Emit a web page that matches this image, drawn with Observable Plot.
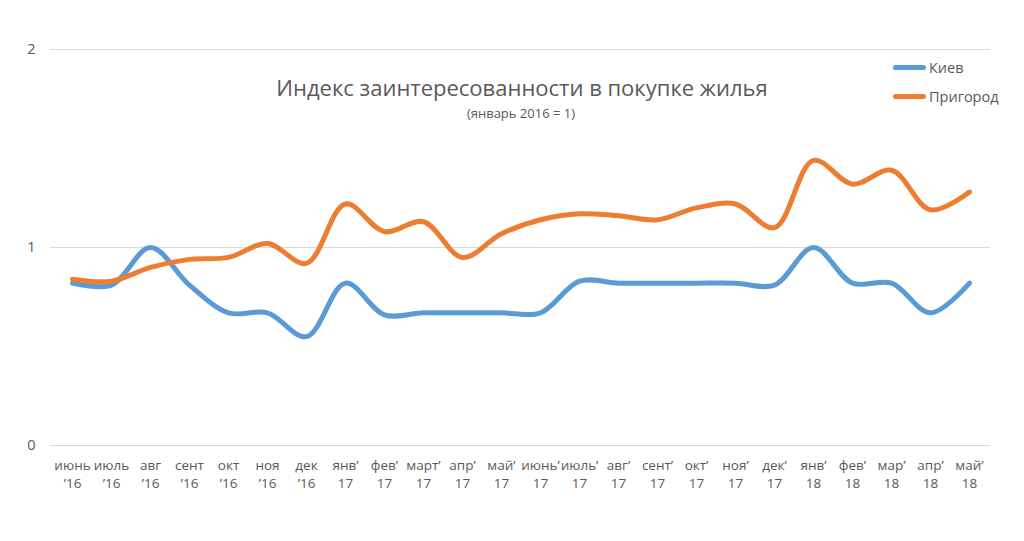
<!DOCTYPE html>
<html><head><meta charset="utf-8">
<script src="https://cdn.jsdelivr.net/npm/d3@7"></script>
<script src="https://cdn.jsdelivr.net/npm/@observablehq/plot@0.6"></script>
<style>
html,body{margin:0;padding:0;background:#fff;}
#wrap{position:relative;width:1024px;height:541px;font-family:"Open Sans",sans-serif;color:#595959;}
#title{position:absolute;left:0;width:1044px;top:72px;text-align:center;font-size:22px;}
#sub{position:absolute;left:0;width:1042px;top:104px;text-align:center;font-size:13px;}
.leg{position:absolute;left:893px;font-size:14.5px;display:flex;align-items:center;}
.leg span.sw{display:inline-block;width:33px;height:5px;border-radius:3px;margin-right:3px;}
</style></head><body>
<div id="wrap">
<div id="chart"></div>
<div id="title">Индекс заинтересованности в покупке жилья</div>
<div id="sub">(январь 2016 = 1)</div>
<div class="leg" style="top:58px"><span class="sw" style="background:#5b9bd5"></span>Киев</div>
<div class="leg" style="top:87px"><span class="sw" style="background:#ed7d31"></span>Пригород</div>
</div>
<script>
const months = ["июнь\n’16","июль\n’16","авг\n’16","сент\n’16","окт\n’16","ноя\n’16","дек\n’16",
"янв’\n17","фев’\n17","март’\n17","апр’\n17","май’\n17","июнь’\n17","июль’\n17","авг’\n17","сент’\n17",
"окт’\n17","ноя’\n17","дек’\n17","янв’\n18","фев’\n18","мар’\n18","апр’\n18","май’\n18"];
const kiev = [0.82,0.81,1.0,0.81,0.67,0.67,0.55,0.82,0.66,0.67,0.67,0.67,0.67,0.83,0.82,0.82,0.82,0.82,0.81,1.0,0.82,0.82,0.67,0.82];
const prigorod = [0.84,0.83,0.9,0.94,0.95,1.02,0.92,1.22,1.08,1.13,0.95,1.07,1.14,1.17,1.16,1.14,1.2,1.22,1.1,1.44,1.32,1.39,1.19,1.28];
const yTicks = [0,1,2];
const seriesNames = ["Киев","Пригород"];
const colors = ["#5b9bd5","#ed7d31"];

const data = [];
months.forEach((m,i)=>{
  data.push({month:m, series:seriesNames[0], value:kiev[i]});
  data.push({month:m, series:seriesNames[1], value:prigorod[i]});
});

const chart = Plot.plot({
  width:1024, height:541,
  marginLeft:50, marginRight:34, marginTop:49, marginBottom:96,
  style:{fontFamily:"Open Sans, sans-serif", color:"#595959", background:"transparent"},
  x:{type:"point", domain:months, padding:0.5, label:null},
  y:{domain:[0,2], ticks:yTicks, label:null},
  color:{domain:seriesNames, range:colors},
  marks:[
    Plot.gridY(yTicks,{stroke:"#d9d9d9", strokeOpacity:1, strokeWidth:1}),
    Plot.axisY(yTicks,{tickSize:0, tickPadding:15, fontSize:14.5, fill:"#595959", tickFormat:d=>String(d)}),
    Plot.axisX({tickSize:0, tickPadding:12, fontSize:13.5, fill:"#595959", lineHeight:1.3}),
    Plot.line(data,{x:"month", y:"value", z:"series", stroke:"series", strokeWidth:5, curve:"catmull-rom", strokeLinecap:"round", strokeLinejoin:"round"})
  ]
});
document.getElementById("chart").appendChild(chart);
</script>
</body></html>
